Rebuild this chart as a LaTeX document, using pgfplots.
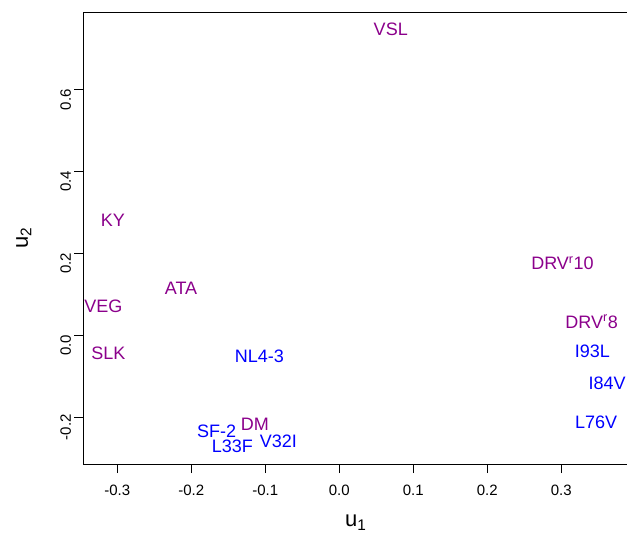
\documentclass[border=0pt]{standalone}
\usepackage{pgfplots}
\pgfplotsset{compat=1.18}
\usetikzlibrary{calc}
\usepackage{fontspec}
\setmainfont{Liberation Sans}
\definecolor{dmag}{HTML}{8B008B}
\definecolor{rblue}{HTML}{0000FF}
\begin{document}
\begin{tikzpicture}
\begin{axis}[
  scale only axis,
  width=544.5pt, height=451.7pt,
  xmin=-0.3457, xmax=0.3901,
  ymin=-0.3143, ymax=0.789,
  axis line style={line width=0.8pt},
  every tick/.style={black, line width=0.8pt},
  tick align=outside,
  major tick length=9pt,
  xtick={-0.3,-0.2,-0.1,0,0.1,0.2,0.3},
  ytick={-0.2,0,0.2,0.4,0.6},
  xtick pos=bottom, ytick pos=left,
  /pgf/number format/assume math mode=true,
  /pgf/number format/fixed,
  /pgf/number format/fixed zerofill,
  /pgf/number format/precision=1,
  ticklabel style={font=\fontsize{15}{17}\selectfont},
  xticklabel style={yshift=-8pt},
  yticklabel style={rotate=90, anchor=south, xshift=-10pt},
  xlabel={u\textsubscript{1}},
  ylabel={u\textsubscript{2}},
  label style={font=\fontsize{22}{24}\selectfont},
  xlabel style={yshift=-13pt},
  ylabel style={yshift=22pt},
  point meta=explicit symbolic,
  nodes near coords,
  every node near coord/.style={anchor=center, inner sep=0pt, font=\fontsize{18}{20}\selectfont},
  clip=false,
]
\addplot[draw=none, mark=none, every node near coord/.append style={text=dmag}] coordinates {
  (-0.306,0.2816) [KY]
  (0.0695,0.747) [VSL]
  (0.3016,0.1766) [DRV\textsuperscript{r}10]
  (-0.2139,0.1148) [ATA]
  (-0.319,0.0698) [VEG]
  (-0.312,-0.044) [SLK]
  (-0.114,-0.2173) [DM]
  (0.341,0.0332) [DRV\textsuperscript{r}8]
};
\addplot[draw=none, mark=none, every node near coord/.append style={text=rblue}] coordinates {
  (-0.108,-0.0505) [NL4-3]
  (-0.1657,-0.2354) [SF-2]
  (-0.1446,-0.272) [L33F]
  (-0.0824,-0.26) [V32I]
  (0.342,-0.0383) [I93L]
  (0.362,-0.117) [I84V]
  (0.347,-0.2134) [L76V]
};
\end{axis}
\pgfresetboundingbox
\path[use as bounding box] ($(current axis.south west)+(-83.5pt,-70pt)$) rectangle ($(current axis.north east)+(-1pt,12.3pt)$);
\end{tikzpicture}
\end{document}
